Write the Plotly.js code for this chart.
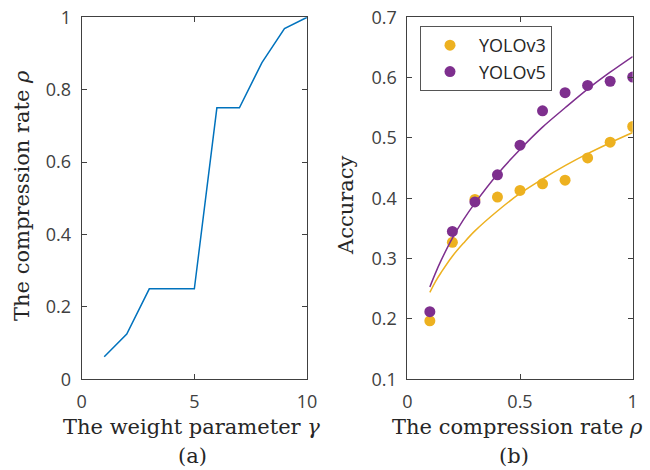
<!DOCTYPE html>
<html><head><meta charset="utf-8">
<script src="https://cdn.plot.ly/plotly-3.0.1.min.js"></script>
<style>html,body{margin:0;padding:0;background:#fff}</style>
</head><body><div id="chart" style="width:650px;height:470px"></div>
<script>
// (a) weight parameter vs compression rate
const gammaVals = [1, 2, 3, 4, 5, 6, 7, 8, 9, 10];
const rhoVals = [0.0625, 0.125, 0.25, 0.25, 0.25, 0.75, 0.75, 0.875, 0.96875, 1];
// (b) accuracy vs compression rate
const rateVals = [0.1, 0.2, 0.3, 0.4, 0.5, 0.6, 0.7, 0.8, 0.9, 1.0];
const yolov3Acc = [0.197, 0.327, 0.398, 0.402, 0.413, 0.424, 0.430, 0.467, 0.493, 0.519];
const yolov5Acc = [0.212, 0.345, 0.394, 0.439, 0.488, 0.545, 0.575, 0.587, 0.594, 0.601];
// fitted curves
const fitRate = [0.1, 0.125, 0.15, 0.2, 0.25, 0.3, 0.4, 0.5, 0.6, 0.7, 0.8, 0.9, 1.0];
const yolov3Fit = [0.244, 0.262, 0.277, 0.304, 0.326, 0.346, 0.379, 0.408, 0.432, 0.454, 0.474, 0.492, 0.509];
const yolov5Fit = [0.253, 0.276, 0.297, 0.334, 0.365, 0.392, 0.440, 0.481, 0.518, 0.550, 0.581, 0.609, 0.635];
const seriesNames = ['YOLOv3', 'YOLOv5'];

const C3 = '#EDB120', C5 = '#7E2F8E', CB = '#0072BD';
const W = 650, H = 470;
const axisCol = '#404040';
const tickFont = {family: 'Open Sans, sans-serif', size: 18, color: '#404040'};
const serif = {family: 'DejaVu Serif, serif', size: 21, color: '#262626'};

const traces = [
  {x: gammaVals, y: rhoVals, type: 'scatter', mode: 'lines', line: {color: CB, width: 1.5},
   xaxis: 'x', yaxis: 'y', showlegend: false, hoverinfo: 'skip'},
  {x: rateVals, y: yolov3Acc, type: 'scatter', mode: 'markers', name: seriesNames[0],
   marker: {color: C3, size: 11}, xaxis: 'x2', yaxis: 'y2'},
  {x: rateVals, y: yolov5Acc, type: 'scatter', mode: 'markers', name: seriesNames[1],
   marker: {color: C5, size: 11}, xaxis: 'x2', yaxis: 'y2'},
  {x: fitRate, y: yolov3Fit, type: 'scatter', mode: 'lines', line: {color: C3, width: 1.5, shape: 'spline'},
   xaxis: 'x2', yaxis: 'y2', showlegend: false},
  {x: fitRate, y: yolov5Fit, type: 'scatter', mode: 'lines', line: {color: C5, width: 1.5, shape: 'spline'},
   xaxis: 'x2', yaxis: 'y2', showlegend: false}
];

function ax(domain, range, dtick, anchor) {
  return {domain: domain, range: range, dtick: dtick, tick0: range[0], anchor: anchor,
    showgrid: false, zeroline: false, showline: true, linecolor: axisCol, linewidth: 1,
    mirror: 'ticks', ticks: 'inside', ticklen: 5, tickcolor: axisCol, tickwidth: 1,
    tickfont: tickFont, ticklabelstandoff: 6, fixedrange: true};
}
const yDom = [1 - 379.3 / H, 1 - 17.3 / H];
const layout = {
  width: W, height: H, margin: {l: 0, r: 0, t: 0, b: 0},
  paper_bgcolor: '#fff', plot_bgcolor: '#fff', showlegend: true,
  xaxis: ax([81.7 / W, 307 / W], [0, 10], 5, 'y'),
  yaxis: ax(yDom, [0, 1], 0.2, 'x'),
  xaxis2: ax([407.3 / W, 632.7 / W], [0, 1], 0.5, 'y2'),
  yaxis2: ax(yDom, [0.1, 0.7], 0.1, 'x2'),
  legend: {x: 420 / W, y: 1 - 26 / H, xanchor: 'left', yanchor: 'top',
    bordercolor: '#555', borderwidth: 1, bgcolor: '#fff',
    font: {family: 'Open Sans, sans-serif', size: 18, color: '#262626'},
    itemwidth: 48, entrywidth: 82, entrywidthmode: 'pixels'},
  annotations: [
    {text: 'The compression rate <i>ρ</i>', x: 22 / W, y: 1 - 196 / H, xref: 'paper', yref: 'paper',
     textangle: -90, showarrow: false, xanchor: 'center', yanchor: 'middle', font: serif},
    {text: 'Accuracy', x: 346 / W, y: 1 - 205 / H, xref: 'paper', yref: 'paper',
     textangle: -90, showarrow: false, xanchor: 'center', yanchor: 'middle', font: serif},
    {text: 'The weight parameter <i>γ</i>', x: 191 / W, y: 1 - 427 / H, xref: 'paper', yref: 'paper',
     showarrow: false, xanchor: 'center', yanchor: 'middle', font: serif},
    {text: 'The compression rate <i>ρ</i>', x: 517 / W, y: 1 - 427 / H, xref: 'paper', yref: 'paper',
     showarrow: false, xanchor: 'center', yanchor: 'middle', font: serif},
    {text: '(a)', x: 193 / W, y: 1 - 456 / H, xref: 'paper', yref: 'paper',
     showarrow: false, xanchor: 'center', yanchor: 'middle', font: serif},
    {text: '(b)', x: 514 / W, y: 1 - 456 / H, xref: 'paper', yref: 'paper',
     showarrow: false, xanchor: 'center', yanchor: 'middle', font: serif}
  ]
};
Plotly.newPlot('chart', traces, layout, {staticPlot: true, displayModeBar: false});
</script></body></html>
